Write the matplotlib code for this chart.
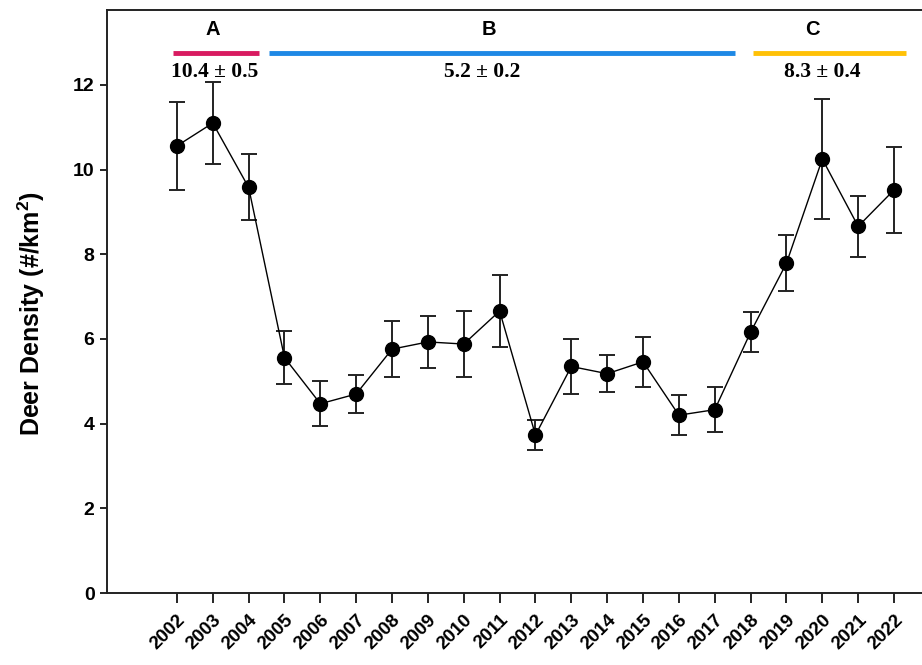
import matplotlib
matplotlib.use("Agg")
import matplotlib.pyplot as plt
import numpy as np

years = list(range(2002, 2023))
density = [10.56, 11.10, 9.58, 5.56, 4.47, 4.70, 5.76, 5.93, 5.88, 6.66, 3.73,
           5.35, 5.18, 5.46, 4.20, 4.33, 6.16, 7.79, 10.25, 8.66, 9.52]
sem = [1.04, 0.97, 0.78, 0.62, 0.53, 0.46, 0.66, 0.62, 0.77, 0.84, 0.36,
       0.64, 0.44, 0.59, 0.47, 0.53, 0.47, 0.66, 1.42, 0.72, 1.02]

periods = ["A", "B", "C"]
period_ranges = [(2001.89, 2004.29), (2004.57, 2017.57), (2018.07, 2022.34)]
period_label_x = [2003.0, 2010.7, 2019.72]
period_stats = ["10.4 \u00b1 0.5", "5.2 \u00b1 0.2", "8.3 \u00b1 0.4"]
period_stats_x = [2003.05, 2010.5, 2020.0]
period_colors = ["#D81B60", "#1E88E5", "#FFC107"]

plt.rcParams['mathtext.fontset'] = 'custom'
plt.rcParams['mathtext.rm'] = 'Liberation Sans:bold'
plt.rcParams['mathtext.bf'] = 'Liberation Sans:bold'

fig = plt.figure(figsize=(9.22, 6.65), dpi=100)
ax = fig.add_axes([107/922, 1 - 593/665, 1 - 107/922, (593 - 10)/665])

ax.errorbar(years, density, yerr=sem, fmt='o-', color='black', ms=10,
            lw=1.0, elinewidth=1.4, capsize=6, capthick=1.4, ecolor='#222222',
            zorder=3)

for lab, (x0, x1), lx, st, sx, c in zip(periods, period_ranges, period_label_x,
                                         period_stats, period_stats_x, period_colors):
    ax.plot([x0, x1], [12.76, 12.76], color=c, lw=3.5, solid_capstyle='butt', clip_on=False)
    ax.text(lx, 13.3, lab, ha='center', va='center', fontsize=14.5, fontweight='bold',
            family='Liberation Sans')
    ax.text(sx, 12.3, st, ha='center', va='center', fontsize=15.5, fontweight='bold',
            family='Liberation Serif')

ax.set_xlim(2000.05, 2022.78)
ax.set_ylim(0, 13.77)
ax.set_yticks([0, 2, 4, 6, 8, 10, 12])
ax.set_xticks(years)
ax.set_xticklabels([str(y) for y in years], rotation=45, ha='right',
                   rotation_mode='anchor', fontsize=13.5, fontweight='bold',
                   family='Liberation Sans')
for t in ax.get_yticklabels():
    t.set_fontsize(14)
    t.set_fontweight('bold')
    t.set_family('Liberation Sans')

ax.tick_params(axis='x', direction='out', length=7, width=1.2, pad=6)
ax.tick_params(axis='y', direction='out', length=5, width=1.2, pad=4)
ax.spines['right'].set_visible(False)
for s in ['left', 'bottom', 'top']:
    ax.spines[s].set_linewidth(1.4)
    ax.spines[s].set_color('#222222')

ax.set_ylabel("Deer Density (#/km$^2$)", fontsize=18, fontweight='bold',
              family='Liberation Sans')
ax.yaxis.set_label_coords(-0.074, 0.479)

fig.savefig("out.png", dpi=100)
